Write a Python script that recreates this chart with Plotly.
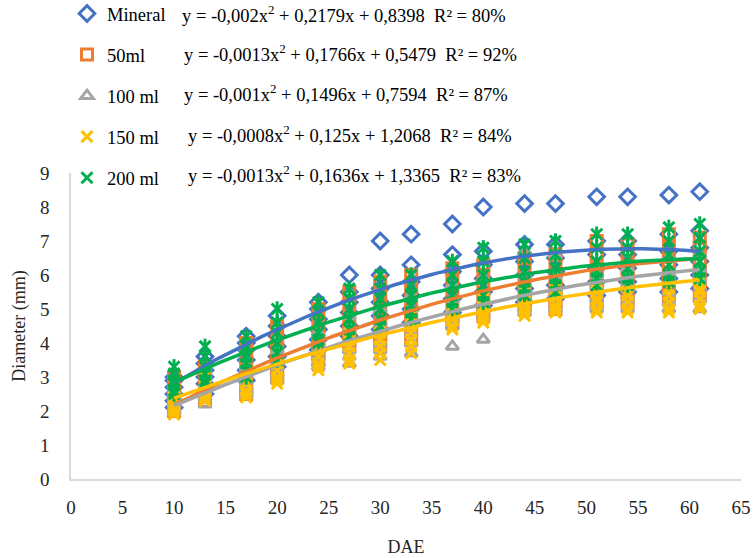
import plotly.graph_objects as go

DAE = [10, 13, 17, 20, 24, 27, 30, 33, 37, 40, 44, 47, 51, 54, 58, 61]

mineral = [
    [3.0, 2.9, 2.7, 2.5, 2.3, 2.1], [3.6, 3.4, 3.2, 3.0, 2.8, 2.5],
    [4.2, 4.0, 3.8, 3.5, 3.2, 2.9], [4.8, 4.5, 4.2, 3.9, 3.6, 3.3],
    [5.2, 5.0, 4.7, 4.4, 4.1, 3.8], [6.0, 5.5, 5.2, 4.9, 4.5, 4.2],
    [7.0, 6.0, 5.6, 5.2, 4.8, 4.4], [7.2, 6.3, 5.8, 5.4, 5.0, 4.6],
    [7.5, 6.6, 6.1, 5.7, 5.3, 4.9], [8.0, 6.7, 6.3, 5.9, 5.5, 5.1],
    [8.1, 6.9, 6.4, 6.0, 5.6, 5.2], [8.1, 6.9, 6.5, 6.1, 5.7, 5.3],
    [8.3, 7.0, 6.6, 6.2, 5.8, 5.4], [8.3, 7.0, 6.6, 6.2, 5.8, 5.5],
    [8.35, 7.2, 6.7, 6.3, 5.9, 5.5], [8.45, 7.3, 6.8, 6.4, 6.0, 5.6],
]
ml50 = [
    [3.0, 2.8, 2.6, 2.4, 2.2, 2.0], [3.3, 3.1, 2.9, 2.7, 2.5, 2.3],
    [4.0, 3.6, 3.3, 3.0, 2.7, 2.5], [4.5, 4.1, 3.8, 3.5, 3.2, 3.0],
    [5.0, 4.6, 4.3, 4.0, 3.7, 3.5], [5.5, 5.1, 4.7, 4.4, 4.1, 3.9],
    [5.8, 5.4, 5.0, 4.7, 4.3, 4.0], [6.0, 5.6, 5.2, 4.9, 4.5, 4.1],
    [6.2, 5.8, 5.4, 5.1, 4.8, 4.6], [6.3, 6.0, 5.6, 5.3, 5.0, 4.8],
    [6.5, 6.2, 5.8, 5.5, 5.2, 5.0], [6.6, 6.3, 5.9, 5.6, 5.3, 5.0],
    [7.0, 6.6, 6.2, 5.9, 5.5, 5.2], [6.9, 6.6, 6.2, 5.9, 5.5, 5.2],
    [7.2, 6.8, 6.4, 6.0, 5.7, 5.4], [7.1, 6.8, 6.4, 6.1, 5.7, 5.4],
]
ml100 = [
    [2.6, 2.4, 2.3, 2.2, 2.1, 2.0], [3.0, 2.8, 2.6, 2.5, 2.4, 2.2],
    [3.3, 3.1, 2.9, 2.7, 2.6, 2.5], [3.8, 3.5, 3.3, 3.1, 3.0, 2.9],
    [4.3, 4.0, 3.8, 3.6, 3.4, 3.3], [4.8, 4.4, 4.1, 3.8, 3.6, 3.4],
    [5.0, 4.6, 4.3, 4.0, 3.8, 3.6], [5.4, 5.0, 4.6, 4.3, 4.0, 3.7],
    [5.7, 5.3, 5.0, 4.7, 4.5, 3.9], [5.9, 5.5, 5.2, 5.0, 4.8, 4.1],
    [6.7, 6.0, 5.6, 5.3, 5.0, 4.9], [6.6, 6.0, 5.6, 5.3, 5.1, 5.0],
    [6.0, 5.7, 5.5, 5.3, 5.1, 5.0], [6.2, 5.8, 5.6, 5.4, 5.2, 5.0],
    [6.5, 6.1, 5.8, 5.5, 5.2, 5.0], [6.6, 6.2, 5.9, 5.6, 5.3, 5.0],
]
ml150 = [
    [2.6, 2.4, 2.2, 2.1, 2.0, 1.9], [3.0, 2.8, 2.6, 2.5, 2.4, 2.3],
    [3.2, 3.0, 2.8, 2.6, 2.5, 2.4], [3.7, 3.4, 3.2, 3.0, 2.9, 2.8],
    [4.0, 3.8, 3.6, 3.4, 3.3, 3.2], [4.3, 4.1, 3.9, 3.7, 3.5, 3.4],
    [4.5, 4.3, 4.1, 3.9, 3.7, 3.5], [4.8, 4.5, 4.3, 4.1, 3.9, 3.7],
    [5.0, 4.9, 4.8, 4.7, 4.5, 4.4], [5.3, 5.1, 5.0, 4.8, 4.7, 4.6],
    [5.5, 5.3, 5.2, 5.0, 4.9, 4.8], [5.6, 5.4, 5.3, 5.1, 5.0, 4.9],
    [5.6, 5.5, 5.3, 5.2, 5.0, 4.9], [5.7, 5.5, 5.4, 5.2, 5.0, 4.9],
    [5.8, 5.6, 5.4, 5.2, 5.0, 4.9], [5.8, 5.6, 5.5, 5.3, 5.1, 5.0],
]
ml200 = [
    [3.3, 3.1, 2.9, 2.8, 2.6, 2.5], [3.9, 3.6, 3.3, 3.1, 2.9, 2.8],
    [4.2, 3.9, 3.6, 3.4, 3.2, 3.0], [5.0, 4.6, 4.3, 4.0, 3.7, 3.5],
    [5.2, 4.9, 4.6, 4.3, 4.1, 4.0], [5.6, 5.3, 5.0, 4.7, 4.4, 4.2],
    [6.0, 5.6, 5.3, 5.0, 4.7, 4.5], [6.0, 5.7, 5.4, 5.1, 4.9, 4.7],
    [6.4, 6.0, 5.7, 5.4, 5.2, 5.0], [6.8, 6.4, 6.0, 5.7, 5.4, 5.2],
    [6.9, 6.5, 6.1, 5.8, 5.6, 5.4], [7.0, 6.6, 6.2, 5.9, 5.7, 5.5],
    [7.2, 6.8, 6.4, 6.1, 5.9, 5.7], [7.2, 6.8, 6.5, 6.2, 5.9, 5.7],
    [7.4, 7.0, 6.6, 6.3, 6.0, 5.8], [7.5, 7.1, 6.7, 6.4, 6.1, 5.9],
]

names = ["Mineral", "50ml", "100 ml", "150 ml", "200 ml"]
colors = ["#4472C4", "#ED7D31", "#A5A5A5", "#FFC000", "#00B050"]
symbols = ["diamond-open", "square-open", "triangle-up-open", "x-thin-open", "x-thin-open"]
sizes = [12, 11, 11, 11, 11]
# trendline coefficients (a, b, c) for y = a x^2 + b x + c
coef_a = [-0.002, -0.0013, -0.001, -0.0008, -0.0013]
coef_b = [0.2179, 0.1766, 0.1496, 0.125, 0.1636]
coef_c = [0.8398, 0.5479, 0.7594, 1.2068, 1.3365]
eq_text = [
    "y = -0,002x<sup>2</sup> + 0,2179x + 0,8398  R² = 80%",
    "y = -0,0013x<sup>2</sup> + 0,1766x + 0,5479  R² = 92%",
    "y = -0,001x<sup>2</sup> + 0,1496x + 0,7594  R² = 87%",
    "y = -0,0008x<sup>2</sup> + 0,125x + 1,2068  R² = 84%",
    "y = -0,0013x<sup>2</sup> + 0,1636x + 1,3365  R² = 83%",
]
series = [mineral, ml50, ml100, ml150, ml200]

FONT = "Liberation Serif, Times New Roman, serif"
fig = go.Figure()

for i, s in enumerate(series):
    xs, ys = [], []
    for xv, reps in zip(DAE, s):
        for v in reps:
            xs.append(xv)
            ys.append(v)
    fig.add_trace(go.Scatter(
        x=xs, y=ys, mode="markers", name=names[i], legendgroup=names[i],
        marker=dict(symbol=symbols[i], size=sizes[i], color=colors[i],
                    line=dict(width=3, color=colors[i])),
    ))
    if i == 4:
        fig.add_trace(go.Scatter(
            x=xs, y=ys, mode="markers", name=names[i], legendgroup=names[i],
            showlegend=False,
            marker=dict(symbol="line-ns-open", size=11, color=colors[i],
                        line=dict(width=3, color=colors[i])),
        ))

# trendlines
xfit = [10 + k * 0.5 for k in range(int((61 - 10) / 0.5) + 1)]
for i in range(5):
    yfit = [coef_a[i] * x * x + coef_b[i] * x + coef_c[i] for x in xfit]
    fig.add_trace(go.Scatter(
        x=xfit, y=yfit, mode="lines", showlegend=False, hoverinfo="skip",
        line=dict(color=colors[i], width=3.5),
    ))

eq_x = [180, 182, 182, 186, 186]
eq_y = [14, 53, 93, 134, 174]
for i in range(5):
    fig.add_annotation(
        xref="paper", yref="paper",
        x=(eq_x[i] - 71) / 670, y=(479 - eq_y[i]) / 306,
        xanchor="left", yanchor="middle", showarrow=False,
        text=eq_text[i], font=dict(family=FONT, size=18.5, color="#000000"),
    )

fig.update_layout(
    width=753, height=558,
    margin=dict(l=71, r=12, t=173, b=79, autoexpand=False),
    paper_bgcolor="white", plot_bgcolor="white",
    font=dict(family=FONT, size=17, color="#262626"),
    legend=dict(
        x=(67 - 71) / 670, y=(479 + 5) / 306, xanchor="left", yanchor="top",
        font=dict(family=FONT, size=18.5, color="#000000"),
        tracegroupgap=14, bgcolor="rgba(0,0,0,0)", itemwidth=30,
    ),
    xaxis=dict(
        range=[0, 65], dtick=5, tick0=0, showgrid=False, zeroline=False,
        showline=True, linecolor="#d9d9d9", linewidth=1.5, ticks="",
        ticklabelstandoff=10,
        title=dict(text="DAE", font=dict(family=FONT, size=18, color="#262626"), standoff=24),
        tickfont=dict(family=FONT, size=19, color="#262626"),
    ),
    yaxis=dict(
        range=[0, 9], dtick=1, tick0=0, showgrid=False, zeroline=False,
        showline=True, linecolor="#d9d9d9", linewidth=1.5, ticks="",
        ticklabelstandoff=16,
        title=dict(text="Diameter (mm)", font=dict(family=FONT, size=18, color="#262626"), standoff=10),
        tickfont=dict(family=FONT, size=19, color="#262626"),
    ),
)

fig.write_html("out.html")
